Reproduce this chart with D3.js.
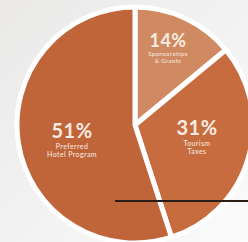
<!DOCTYPE html>
<html>
<head>
<meta charset="utf-8">
<script src="https://cdnjs.cloudflare.com/ajax/libs/d3/7.8.5/d3.min.js"></script>
<style>
  html, body { margin: 0; padding: 0; background: #f1f0ef; }
  svg { display: block; }
</style>
</head>
<body>
<div id="chart"></div>
<script>
// slice data, clockwise from 12 o'clock
var categories = ["Sponsorships|& Grants", "Tourism|Taxes", "Preferred|Hotel Program"];
var shares = [14, 31, 51];
var percentLabels = ["14%", "31%", "51%"];
var sliceColors = ["#d08a61", "#c66c3f", "#c0653a"];

var width = 248, height = 242;
var cx = 135, cy = 125, radius = 118;

var svg = d3.select('#chart').append('svg')
  .attr("width", width)
  .attr("height", height);

// soft background, lighter towards bottom right
var defs = svg.append("defs");
var bg = defs.append("linearGradient")
  .attr("id", "bg")
  .attr("x1", 0).attr("y1", 0).attr("x2", 1).attr("y2", 1);
bg.append("stop").attr("offset", "0%").attr("stop-color", "#eae9e8");
bg.append("stop").attr("offset", "100%").attr("stop-color", "#fbfbfb");

svg.append("rect")
  .attr("width", width)
  .attr("height", height)
  .attr("fill", "url(#bg)");

// percentages are of 100, the last slice takes what is left of the circle
var angle = d3.scaleLinear().domain([0, 100]).range([0, 2 * Math.PI]);
var cum = 0;
var slices = shares.map(function(v, i) {
  var s = { index: i, value: v, startAngle: angle(cum) };
  cum += v;
  s.endAngle = i === shares.length - 1 ? 2 * Math.PI : angle(cum);
  return s;
});

var arc = d3.arc()
  .innerRadius(0)
  .outerRadius(radius);

var g = svg.append("g")
  .attr("transform", "translate(" + cx + "," + cy + ")");

// white halo around pie
g.append("circle")
  .attr("r", radius + 2)
  .attr("fill", "#ffffff");

g.selectAll("path")
  .data(slices)
  .enter().append("path")
    .attr("d", arc)
    .attr("fill", function(d) { return sliceColors[d.index]; })
    .attr("stroke", "#ffffff")
    .attr("stroke-width", 5)
    .attr("stroke-linejoin", "round");

// label anchors, set by hand per slice
var labelPos = [[33, -78], [62, 10], [-63, 13]];
var bigSize = [18, 20, 20];
var smallSize = [6, 7, 7];

var labels = g.selectAll("g.lab")
  .data(slices)
  .enter().append("g")
    .attr("class", "lab")
    .attr("transform", function(d) { return "translate(" + labelPos[d.index] + ")"; })
    .attr("text-anchor", "middle")
    .attr("fill", "#f8ece2")
    .style("font-family", "Lato, 'Open Sans', sans-serif");

labels.append("text")
  .style("font-weight", 700)
  .style("font-size", function(d) { return bigSize[d.index] + "px"; })
  .style("letter-spacing", "0.5px")
  .text(function(d) { return percentLabels[d.index]; });

labels.each(function(d) {
  var lines = categories[d.index].split("|");
  var fs = smallSize[d.index];
  d3.select(this).selectAll("text.sub")
    .data(lines)
    .enter().append("text")
      .attr("class", "sub")
      .attr("y", function(t, j) { return fs * 1.5 + j * fs * 1.2; })
      .style("font-size", fs + "px")
      .style("letter-spacing", "0.4px")
      .text(function(t) { return t; });
});

// stray leader line across the lower right
svg.append("line")
  .attr("x1", 115).attr("x2", width)
  .attr("y1", 201).attr("y2", 201)
  .attr("stroke", "#2a1d16")
  .attr("stroke-width", 2);
</script>
</body>
</html>
